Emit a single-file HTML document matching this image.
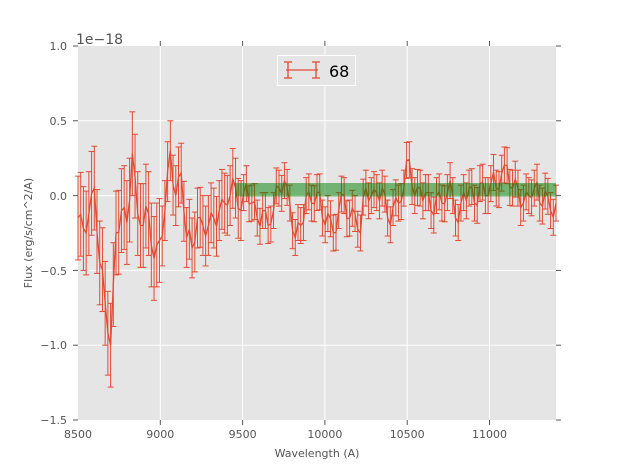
<!DOCTYPE html>
<html><head><meta charset="utf-8"><style>
body{margin:0;background:#fff;width:617px;height:467px;overflow:hidden;font-family:"DejaVu Sans",sans-serif}
</style></head><body>
<svg id="s" width="617" height="467" xmlns="http://www.w3.org/2000/svg" font-family="DejaVu Sans, sans-serif">
<rect x="78" y="46" width="478" height="374" fill="#e5e5e5"/>
<g stroke="#fff" stroke-width="1">
<line x1="160.3" y1="46" x2="160.3" y2="420"/><line x1="242.6" y1="46" x2="242.6" y2="420"/>
<line x1="324.9" y1="46" x2="324.9" y2="420"/><line x1="407.2" y1="46" x2="407.2" y2="420"/>
<line x1="489.5" y1="46" x2="489.5" y2="420"/>
<line x1="78" y1="120.8" x2="556" y2="120.8"/><line x1="78" y1="195.6" x2="556" y2="195.6"/>
<line x1="78" y1="270.4" x2="556" y2="270.4"/><line x1="78" y1="345.2" x2="556" y2="345.2"/>
</g>
<g id="d"></g>
<rect x="235" y="183" width="321" height="13.5" fill="#008000" opacity="0.5"/>
<g stroke="#555" stroke-width="1">
<line x1="78" y1="46" x2="73" y2="46"/><line x1="78" y1="120.8" x2="73" y2="120.8"/><line x1="78" y1="195.6" x2="73" y2="195.6"/><line x1="78" y1="270.4" x2="73" y2="270.4"/><line x1="78" y1="345.2" x2="73" y2="345.2"/><line x1="78" y1="420" x2="73" y2="420"/>
<line x1="556" y1="46" x2="561" y2="46"/><line x1="556" y1="120.8" x2="561" y2="120.8"/><line x1="556" y1="195.6" x2="561" y2="195.6"/><line x1="556" y1="270.4" x2="561" y2="270.4"/><line x1="556" y1="345.2" x2="561" y2="345.2"/><line x1="556" y1="420" x2="561" y2="420"/>
<line x1="160.3" y1="46" x2="160.3" y2="41"/><line x1="242.6" y1="46" x2="242.6" y2="41"/><line x1="324.9" y1="46" x2="324.9" y2="41"/><line x1="407.2" y1="46" x2="407.2" y2="41"/><line x1="489.5" y1="46" x2="489.5" y2="41"/>
<line x1="160.3" y1="420" x2="160.3" y2="425"/><line x1="242.6" y1="420" x2="242.6" y2="425"/><line x1="324.9" y1="420" x2="324.9" y2="425"/><line x1="407.2" y1="420" x2="407.2" y2="425"/><line x1="489.5" y1="420" x2="489.5" y2="425"/>
</g>
<g font-size="11" fill="#555" text-anchor="end">
<text x="67" y="50">1.0</text><text x="67" y="125">0.5</text><text x="67" y="200">0.0</text><text x="67" y="275">−0.5</text><text x="67" y="349">−1.0</text><text x="67" y="424">−1.5</text>
</g>
<g font-size="11" fill="#555" text-anchor="middle">
<text x="78" y="438">8500</text><text x="160.3" y="438">9000</text><text x="242.6" y="438">9500</text><text x="324.9" y="438">10000</text><text x="407.2" y="438">10500</text><text x="489.5" y="438">11000</text>
<text x="317" y="457">Wavelength (A)</text>
</g>
<text x="76" y="44" font-size="14" fill="#555">1e−18</text>
<text transform="translate(32,233) rotate(-90)" font-size="11" fill="#555" text-anchor="middle">Flux (erg/s/cm^2/A)</text>
<rect x="277.5" y="55.5" width="78" height="30" fill="#e5e5e5" stroke="#fff"/>
<g stroke="#e24a33" stroke-width="1.3"><line x1="286" y1="70" x2="318" y2="70"/><line x1="288" y1="62" x2="288" y2="78"/><line x1="316" y1="62" x2="316" y2="78"/><line x1="284" y1="62" x2="292" y2="62"/><line x1="284" y1="78" x2="292" y2="78"/><line x1="312" y1="62" x2="320" y2="62"/><line x1="312" y1="78" x2="320" y2="78"/></g>
<text x="329" y="77" font-size="16" fill="#000">68</text>
</svg>
<script>
var v0=[-0.15,-0.22,-0.12,0.05,-0.45,-0.72,-1.0,-0.25,-0.1,-0.18,0.28,-0.12,-0.2,-0.12,-0.42,-0.3,-0.1,0.3,0.0,0.15,-0.28,-0.35,-0.15,-0.2,-0.2,-0.15,-0.1,-0.05,0.0,0.05,-0.1,0.08,-0.05,-0.15,-0.1,-0.2,-0.1,0.05,0.1,-0.05,-0.28,-0.2,0.0,-0.05,0.02,-0.15,-0.12,-0.25,-0.1,0.0,-0.15,-0.12,-0.25,0.05,0.0,0.02,0.05,-0.15,-0.08,-0.05,0.05,0.24,0.0,0.05,0.02,-0.1,0.0,-0.05,0.02,0.0,-0.18,0.02,0.05,-0.05,0.08,0.0,0.08,0.05,0.15,0.2,0.05,0.05,-0.05,0.0,0.05,-0.05,0.03,-0.1,-0.05];
var jit=[0.06,-0.08,0.05,-0.04,0.09,-0.06,0.03,-0.07];
var v=[];for(var i=0;i<v0.length;i++){v.push(v0[i]);if(i<v0.length-1)v.push((v0[i]+v0[i+1])/2+jit[i%8]);}
var g=document.getElementById('d'),h='',p='';
function X(w){return 78+(w-8500)*0.1646}function Y(f){return 195.6-f*149.6}
for(var i=0;i<v.length;i++){var w=8500+i*16.5,x=X(w),y=Y(v[i]);var e=w<9000?0.28:(w<9500?0.2:0.12);
var y1=Y(v[i]+e),y2=Y(v[i]-e);
h+='<line x1="'+x+'" y1="'+y1+'" x2="'+x+'" y2="'+y2+'"/><line x1="'+(x-3)+'" y1="'+y1+'" x2="'+(x+3)+'" y2="'+y1+'"/><line x1="'+(x-3)+'" y1="'+y2+'" x2="'+(x+3)+'" y2="'+y2+'"/>';
p+=(i?'L':'M')+x.toFixed(1)+' '+y.toFixed(1);}
g.innerHTML='<g stroke="#e24a33" stroke-width="1">'+h+'</g><path d="'+p+'" fill="none" stroke="#e24a33" stroke-width="1.3"/>';
</script>
</body></html>
